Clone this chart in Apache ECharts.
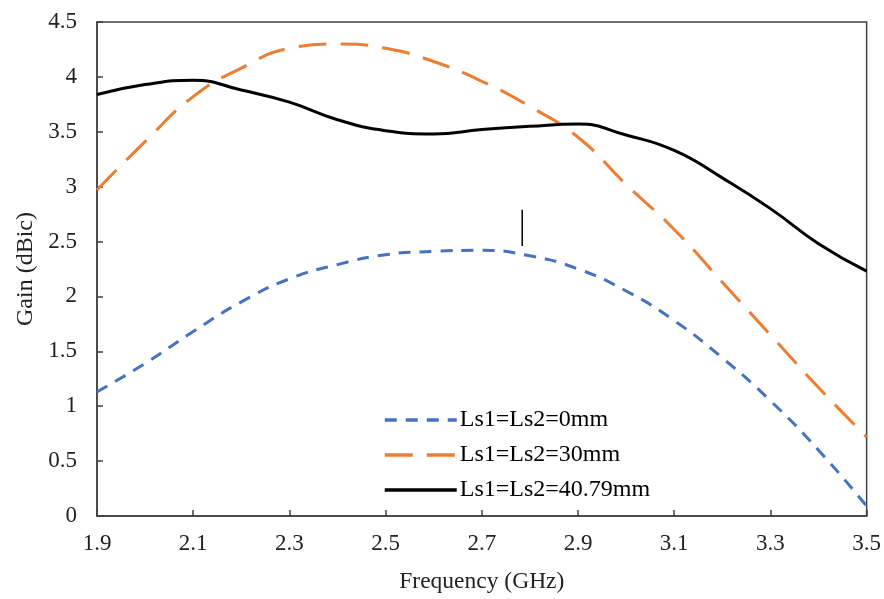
<!DOCTYPE html>
<html>
<head>
<meta charset="utf-8">
<script src="https://cdn.jsdelivr.net/npm/echarts@6/dist/echarts.min.js"></script>
<style>html,body{margin:0;padding:0;background:#fff;}#c{width:884px;height:599px;}</style>
</head>
<body>
<div id="c"></div>
<script>
const frequencies = ['1.9','2.0','2.1','2.2','2.3','2.4','2.5','2.6','2.7','2.8','2.9','3.0','3.1','3.2','3.3','3.4','3.5'];
const gain0mm   = [1.13,1.39,1.68,1.95,2.16,2.29,2.38,2.41,2.42,2.37,2.25,2.05,1.78,1.44,1.05,0.60,0.09];
const gain30mm  = [2.97,3.41,3.82,4.08,4.26,4.30,4.26,4.14,3.96,3.73,3.45,3.02,2.61,2.13,1.65,1.17,0.72];
const gain4079  = [3.84,3.93,3.97,3.88,3.77,3.61,3.51,3.48,3.52,3.55,3.57,3.47,3.33,3.08,2.80,2.48,2.23];
const markerX = [2.784, 2.784];
const markerY = [2.46, 2.79];
const seriesNames = ['Ls1=Ls2=0mm','Ls1=Ls2=30mm','Ls1=Ls2=40.79mm'];

const font = 'Liberation Serif';
const chart = echarts.init(document.getElementById('c'));
chart.setOption({
  animation: false,
  backgroundColor: '#fff',
  grid: {left: 97, right: 16, top: 22, bottom: 81, show: true, borderColor: '#404040', borderWidth: 1.5},
  legend: {
    orient: 'vertical', left: 378, top: 403,
    itemWidth: 72, itemHeight: 14, itemGap: 11,
    data: seriesNames,
    itemStyle: {opacity: 0},
    lineStyle: {width: 3.5},
    textStyle: {fontFamily: font, fontSize: 24, color: '#000', padding: [0, 0, 0, -2]}
  },
  xAxis: [{
    type: 'category', data: frequencies, boundaryGap: false,
    axisLine: {lineStyle: {color: '#404040', width: 1.5}},
    axisTick: {inside: true, length: 6, interval: 1, lineStyle: {color: '#404040', width: 1.5}},
    axisLabel: {interval: 1, fontFamily: font, fontSize: 23, color: '#222', margin: 16},
    splitLine: {show: false},
    name: 'Frequency (GHz)', nameLocation: 'middle', nameGap: 54,
    nameTextStyle: {fontFamily: font, fontSize: 23.5, color: '#222'}
  }, {
    type: 'value', min: 1.9, max: 3.5, show: false
  }],
  yAxis: {
    type: 'value', min: 0, max: 4.5, interval: 0.5,
    axisLine: {show: true, lineStyle: {color: '#404040', width: 1.5}},
    axisTick: {show: true, inside: true, length: 6, lineStyle: {color: '#404040', width: 1.5}},
    axisLabel: {fontFamily: font, fontSize: 23, color: '#222', margin: 20},
    splitLine: {show: false},
    name: 'Gain (dBic)', nameLocation: 'middle', nameGap: 59,
    nameTextStyle: {fontFamily: font, fontSize: 24, color: '#222'}
  },
  series: [
    {name: seriesNames[0], type: 'line', data: gain0mm, smooth: 0.5, symbol: 'none',
     lineStyle: {color: '#4472C4', width: 3, type: [12, 9]}, itemStyle: {color: '#4472C4'}},
    {name: seriesNames[1], type: 'line', data: gain30mm, smooth: 0.5, symbol: 'none',
     lineStyle: {color: '#ED7D31', width: 3, type: [28, 14]}, itemStyle: {color: '#ED7D31'}},
    {name: seriesNames[2], type: 'line', data: gain4079, smooth: 0.5, symbol: 'none',
     lineStyle: {color: '#000', width: 3, type: 'solid'}, itemStyle: {color: '#000'}},
    {name: 'marker', type: 'line', xAxisIndex: 1, symbol: 'none',
     data: markerX.map((x, i) => [x, markerY[i]]),
     lineStyle: {color: '#000', width: 1.5}, silent: true}
  ]
});
</script>
</body>
</html>
